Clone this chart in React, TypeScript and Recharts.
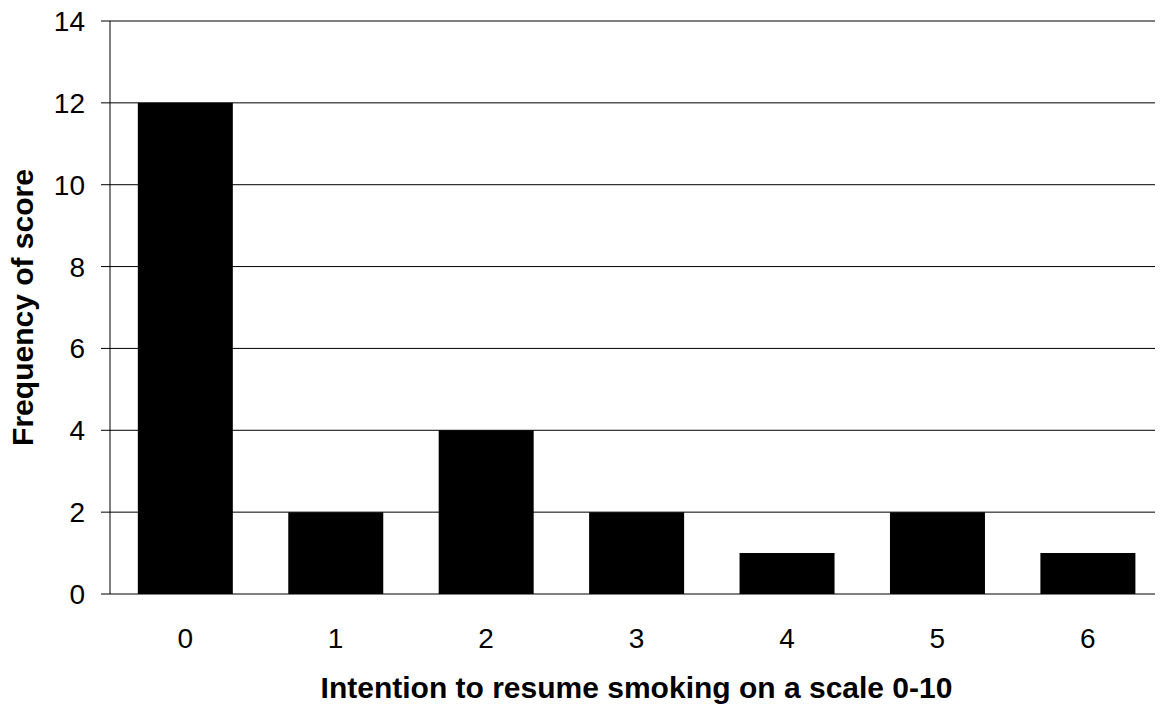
import React from 'react';
import { BarChart, Bar, XAxis, YAxis, CartesianGrid, Label } from 'recharts';

const categories = ['0', '1', '2', '3', '4', '5', '6'];
const frequencies = [12, 2, 4, 2, 1, 2, 1];
const yTicks = [0, 2, 4, 6, 8, 10, 12, 14];
const boundaryTicks = [0, 1, 2, 3, 4, 5, 6, 7];

const data = categories.map((c, i) => ({ score: c, freq: frequencies[i] }));

const FONT = '"Liberation Sans", Arial, sans-serif';

export default function App() {
  return (
    <div style={{ margin: '-8px 0 0 -8px', width: 1163, height: 707, background: '#fff', fontFamily: FONT }}>
      <BarChart
        width={1163}
        height={707}
        data={data}
        margin={{ top: 21, right: 0, bottom: 0, left: 0 }}
        barCategoryGap="18.5%"
      >
        <CartesianGrid vertical={false} stroke="#000" strokeWidth={1} />
        <XAxis
          xAxisId="bounds"
          type="number"
          domain={[0, 7]}
          ticks={boundaryTicks}
          tickFormatter={() => ''}
          height={0}
          axisLine={{ stroke: '#000' }}
          tickLine={{ stroke: '#000' }}
          tickSize={9}
          allowDataOverflow
        />
        <XAxis
          dataKey="score"
          xAxisId="cat"
          height={113}
          axisLine={false}
          tickLine={false}
          tickSize={0}
          tickMargin={34}
          tick={{ fill: '#000', fontSize: 28, fontFamily: FONT }}
          interval={0}
        >
          <Label
            content={({ viewBox }: any) => (
              <text
                x={viewBox.x + viewBox.width / 2}
                y={698}
                textAnchor="middle"
                fontSize={30}
                fontWeight="bold"
                fontFamily={FONT}
                fill="#000"
              >
                Intention to resume smoking on a scale 0-10
              </text>
            )}
          />
        </XAxis>
        <YAxis
          width={110}
          domain={[0, 14]}
          ticks={yTicks}
          interval={0}
          axisLine={{ stroke: '#000' }}
          tickLine={{ stroke: '#000' }}
          tickSize={9}
          tickMargin={16}
          tick={{ fill: '#000', fontSize: 28, fontFamily: FONT }}
        >
          <Label
            content={({ viewBox }: any) => {
              const cx = 33;
              const cy = viewBox.y + viewBox.height / 2;
              return (
                <text
                  x={cx}
                  y={cy}
                  transform={`rotate(-90, ${cx}, ${cy})`}
                  textAnchor="middle"
                  fontSize={30}
                  fontWeight="bold"
                  fontFamily={FONT}
                  fill="#000"
                >
                  Frequency of score
                </text>
              );
            }}
          />
        </YAxis>
        <Bar dataKey="freq" xAxisId="cat" fill="#000" isAnimationActive={false} />
      </BarChart>
    </div>
  );
}
